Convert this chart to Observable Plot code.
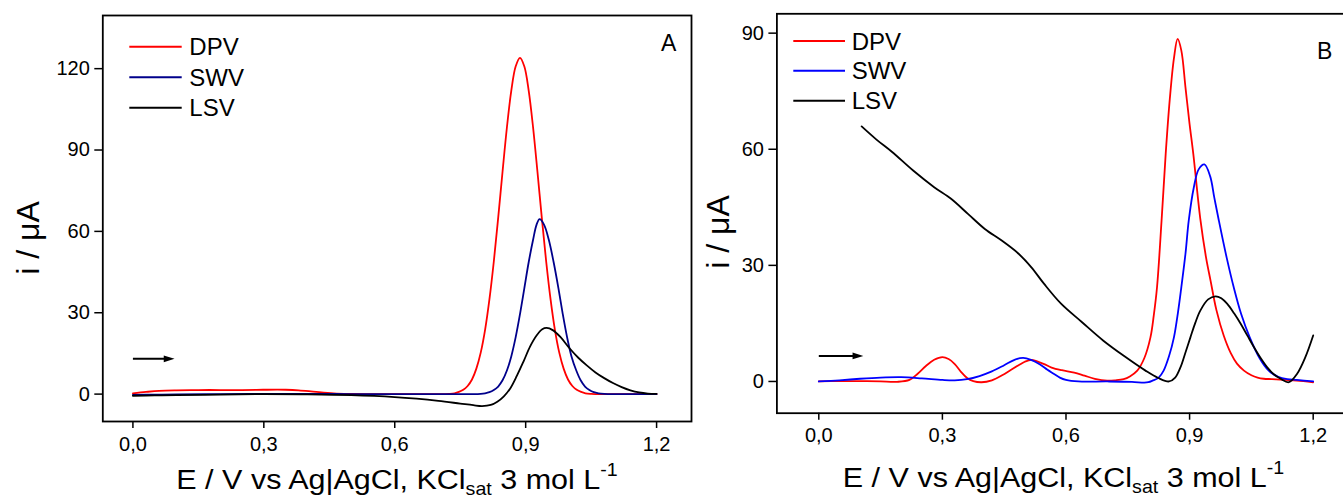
<!DOCTYPE html>
<html><head><meta charset="utf-8">
<script src="https://cdn.jsdelivr.net/npm/d3@7"></script>
<script src="https://cdn.jsdelivr.net/npm/@observablehq/plot@0.6"></script>
<style>
html,body{margin:0;padding:0;background:#fff;overflow:hidden;}
#wrap{position:relative;width:1343px;height:499px;overflow:hidden;font-family:"Liberation Sans",Arial,sans-serif;}
#pa{position:absolute;left:0;top:0;width:692px;height:499px;}
#pb{position:absolute;left:690px;top:0;width:670px;height:499px;}
</style></head><body>
<div id="wrap"><div id="pa"></div><div id="pb"></div></div>
<script>
// ---------- data ----------
const seriesNames = ["DPV", "SWV", "LSV"];
const xTicks = [0, 0.3, 0.6, 0.9, 1.2];
const yTicksA = [0, 30, 60, 90, 120];
const yTicksB = [0, 30, 60, 90];
const xLabelMain = "E / V vs Ag|AgCl, KCl";
const xLabelSub = "sat";
const xLabelRest = " 3 mol L";
const xLabelSup = "-1";
const yLabel = "i / μA";
const panelNames = ["A", "B"];

// Panel A  [E (V), i (µA)]
const dpvA = [[0.00,0.3],[0.03,0.8],[0.06,1.2],[0.10,1.4],[0.15,1.5],[0.20,1.5],[0.25,1.5],[0.30,1.6],[0.35,1.6],[0.38,1.4],[0.42,0.8],[0.46,0.3],[0.50,0.1],[0.55,0.0],[0.60,0.0],[0.65,0.0],[0.70,0.0],[0.725,0.1],[0.737,0.3],[0.747,0.8],[0.757,1.6],[0.767,3.0],[0.777,5.4],[0.787,9.4],[0.797,15.3],[0.807,23.7],[0.817,35.0],[0.827,48.9],[0.837,65.0],[0.847,82.0],[0.857,98.3],[0.867,111.8],[0.877,120.8],[0.887,124.0],[0.897,120.8],[0.907,111.8],[0.917,98.3],[0.927,82.0],[0.937,65.0],[0.947,48.9],[0.957,35.0],[0.967,23.7],[0.977,15.3],[0.987,9.4],[0.997,5.4],[1.007,3.0],[1.017,1.6],[1.027,0.8],[1.037,0.3],[1.05,0.1],[1.08,0.0],[1.14,0.0],[1.20,0.0]];
const swvA = [[0.00,-0.3],[0.05,-0.2],[0.10,-0.1],[0.20,0.0],[0.30,0.1],[0.40,0.1],[0.50,0.0],[0.60,0.0],[0.70,0.0],[0.78,0.0],[0.797,0.1],[0.807,0.3],[0.817,0.7],[0.827,1.5],[0.837,2.8],[0.847,5.1],[0.857,8.7],[0.867,13.9],[0.877,20.9],[0.887,29.5],[0.897,39.1],[0.907,48.7],[0.917,56.9],[0.925,62.5],[0.932,64.5],[0.942,62.5],[0.953,56.9],[0.964,48.7],[0.975,39.1],[0.985,29.5],[0.995,20.9],[1.005,13.9],[1.016,8.7],[1.026,5.1],[1.036,2.8],[1.046,1.5],[1.056,0.7],[1.067,0.3],[1.08,0.1],[1.10,0.0],[1.20,0.0]];
const lsvA = [[0.00,-0.6],[0.05,-0.5],[0.10,-0.4],[0.20,-0.2],[0.30,0.0],[0.40,-0.1],[0.50,-0.4],[0.60,-1.1],[0.65,-1.7],[0.70,-2.5],[0.75,-3.5],[0.78,-4.1],[0.80,-4.4],[0.82,-4.0],[0.835,-2.8],[0.85,-0.8],[0.865,2.2],[0.88,6.8],[0.895,12.0],[0.91,17.5],[0.925,21.6],[0.938,23.9],[0.948,24.4],[0.962,23.6],[0.98,21.0],[1.00,17.0],[1.02,13.5],[1.04,10.6],[1.06,8.0],[1.08,5.9],[1.10,4.1],[1.12,2.6],[1.14,1.4],[1.16,0.6],[1.18,0.2],[1.20,0.1]];

// Panel B  [E (V), i (µA)]
const dpvB = [[0.00,0.0],[0.05,0.1],[0.10,0.1],[0.15,0.0],[0.19,-0.1],[0.22,0.4],[0.24,2.0],[0.26,4.0],[0.28,5.6],[0.30,6.3],[0.315,5.8],[0.33,4.5],[0.345,2.5],[0.36,0.9],[0.375,0.1],[0.395,-0.2],[0.42,0.3],[0.445,1.6],[0.465,2.9],[0.485,4.2],[0.50,5.1],[0.516,5.6],[0.53,5.2],[0.547,4.5],[0.565,3.6],[0.59,2.9],[0.62,2.3],[0.645,1.5],[0.67,0.7],[0.70,0.2],[0.72,0.3],[0.74,0.6],[0.755,1.3],[0.773,2.8],[0.79,6.0],[0.805,11.4],[0.813,17.0],[0.821,24.4],[0.832,41.6],[0.842,58.8],[0.852,73.0],[0.862,83.5],[0.871,88.5],[0.880,85.5],[0.89,76.0],[0.90,66.5],[0.909,58.8],[0.926,42.0],[0.94,32.0],[0.951,26.0],[0.965,18.5],[0.983,11.8],[1.00,7.3],[1.015,4.6],[1.032,2.8],[1.05,1.6],[1.065,1.0],[1.08,0.7],[1.10,0.6],[1.13,0.4],[1.16,0.2],[1.20,-0.2]];
const swvB = [[0.00,0.0],[0.05,0.3],[0.10,0.7],[0.15,1.0],[0.20,1.1],[0.25,0.8],[0.30,0.4],[0.33,0.3],[0.36,0.6],[0.39,1.4],[0.42,2.6],[0.45,4.2],[0.475,5.6],[0.496,6.1],[0.515,5.6],[0.537,4.4],[0.555,3.0],[0.57,2.0],[0.585,1.0],[0.60,0.4],[0.63,0.0],[0.70,0.0],[0.76,-0.1],[0.79,-0.3],[0.80,-0.2],[0.81,0.2],[0.825,1.0],[0.837,2.8],[0.85,6.5],[0.862,11.4],[0.872,18.0],[0.880,24.4],[0.89,33.0],[0.898,41.6],[0.91,50.0],[0.922,54.8],[0.936,56.1],[0.95,53.0],[0.96,47.5],[0.971,41.6],[0.99,32.0],[1.007,24.4],[1.025,17.5],[1.046,11.4],[1.07,6.0],[1.092,2.8],[1.115,1.2],[1.137,0.6],[1.16,0.4],[1.20,0.0]];
const lsvB = [[0.104,65.9],[0.14,62.5],[0.178,59.3],[0.229,54.5],[0.28,50.2],[0.321,47.2],[0.362,43.3],[0.403,39.4],[0.444,36.4],[0.485,33.0],[0.516,29.5],[0.547,25.2],[0.588,20.1],[0.639,15.3],[0.69,10.6],[0.742,6.5],[0.793,2.8],[0.824,0.9],[0.85,0.0],[0.865,1.0],[0.878,3.7],[0.89,7.5],[0.902,11.4],[0.914,15.2],[0.926,18.3],[0.945,21.2],[0.963,22.0],[0.977,21.5],[0.991,20.1],[1.008,17.6],[1.024,14.9],[1.04,11.9],[1.056,8.9],[1.072,6.1],[1.088,3.7],[1.105,1.8],[1.121,0.7],[1.141,-0.2],[1.161,2.0],[1.181,6.3],[1.20,11.9]];

// scan-direction arrows [from E, to E, at i]
const scanArrowA = [[0.0, 0.083, 13.0]];
const scanArrowB = [[0.0, 0.095, 6.6]];

// ---------- drawing ----------
const FONT = '"Liberation Sans", Arial, Helvetica, sans-serif';
const fmt = d => d.toFixed(1).replace(".", ",");
const arrowHead = {
  draw(ctx, size) {
    const r = Math.sqrt(size / Math.PI);
    ctx.moveTo(r * 1.2, 0);
    ctx.lineTo(-r * 1.2, -r * 0.75);
    ctx.lineTo(-r * 1.2, r * 0.75);
    ctx.closePath();
  }
};

function panel(cfg) {
  const lines = cfg.series.map((s, i) => Plot.line(s, {
    x: d => d[0], y: d => d[1], stroke: cfg.colors[i], strokeWidth: 1.8, curve: "catmull-rom"
  }));
  return Plot.plot({
    width: cfg.width, height: 499,
    marginLeft: cfg.ml, marginRight: cfg.mr, marginTop: cfg.mt, marginBottom: cfg.mb,
    x: {domain: cfg.xDomain},
    y: {domain: cfg.yDomain},
    style: {fontFamily: FONT, background: "transparent", overflow: "visible", maxWidth: "none", color: "black"},
    marks: [
      Plot.frame({stroke: "black", strokeWidth: 1.8}),
      Plot.axisX({ticks: xTicks, tickFormat: fmt, tickSize: 7, tickPadding: 8, fontSize: 20, strokeWidth: 1.5, label: null}),
      Plot.axisY({ticks: cfg.yTicks, tickSize: 8, tickPadding: 5, fontSize: 20, strokeWidth: 1.5, label: null}),
      ...lines,
      Plot.link(cfg.arrow, {x1: d => d[0], x2: d => d[1], y1: d => d[2], y2: d => d[2], stroke: "black", strokeWidth: 2}),
      Plot.dot(cfg.arrow, {x: d => d[1], y: d => d[2], symbol: arrowHead, r: 4.5, fill: "black", stroke: "none"})
    ]
  });
}

function decorate(svgNode, o) {
  const s = d3.select(svgNode);
  const g = s.append("g").attr("font-family", FONT).attr("fill", "black");
  seriesNames.forEach((name, i) => {
    const y = o.legY[i];
    g.append("line").attr("x1", o.legX1).attr("x2", o.legX2).attr("y1", y).attr("y2", y)
      .attr("stroke", o.colors[i]).attr("stroke-width", 2);
    g.append("text").attr("x", o.legTX).attr("y", y).attr("dy", "0.36em").attr("font-size", 24)
      .attr("text-anchor", "start").text(name);
  });
  g.append("text").attr("x", o.letterX).attr("y", o.letterY).attr("font-size", 23)
    .attr("text-anchor", "start").text(o.letter);
  const t = g.append("text").attr("transform", `translate(${o.xlabX},${o.xlabY}) scale(1.09,1)`)
    .attr("font-size", 28).attr("text-anchor", "middle");
  t.append("tspan").text(xLabelMain);
  t.append("tspan").attr("font-size", 18).attr("dy", 6).text(xLabelSub);
  t.append("tspan").attr("dy", -6).text(xLabelRest);
  t.append("tspan").attr("font-size", 18).attr("dy", -13).text(xLabelSup);
  g.append("text").attr("transform", `translate(${o.ylabX},${o.ylabY}) rotate(-90)`)
    .attr("font-size", 32).attr("text-anchor", "middle").text(yLabel);
}

const colorsA = ["#ff0000", "#00008b", "#000000"];
const colorsB = ["#ff0000", "#0000ff", "#000000"];

const svgA = panel({width: 692, ml: 102.3, mr: 1, mt: 15, mb: 78,
  xDomain: [-0.069, 1.28], yDomain: [-10.1, 139.6], yTicks: yTicksA,
  series: [dpvA, swvA, lsvA], colors: colorsA, arrow: scanArrowA});
document.getElementById("pa").appendChild(svgA);
decorate(svgA, {colors: colorsA, legX1: 129.3, legX2: 181.7, legTX: 189.3, legY: [46.7, 77.3, 107.7],
  letter: panelNames[0], letterX: 661, letterY: 51, xlabX: 397, xlabY: 489, ylabX: 39, ylabY: 238});

const svgB = panel({width: 670, ml: 86.4, mr: 9, mt: 13.3, mb: 86.3,
  xDomain: [-0.1017, 1.293], yDomain: [-8.2, 95.0], yTicks: yTicksB,
  series: [dpvB, swvB, lsvB], colors: colorsB, arrow: scanArrowB});
document.getElementById("pb").appendChild(svgB);
decorate(svgB, {colors: colorsB, legX1: 103.3, legX2: 155, legTX: 161.7, legY: [41, 70.7, 100.7],
  letter: panelNames[1], letterX: 627, letterY: 59, xlabX: 373.5, xlabY: 487, ylabX: 39, ylabY: 232});
</script>
</body></html>
